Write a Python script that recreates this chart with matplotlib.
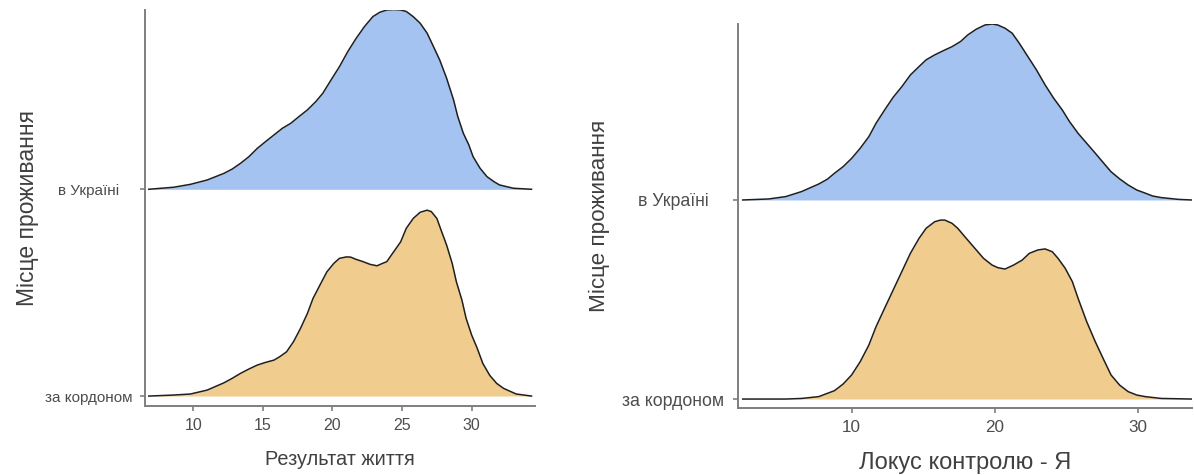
import matplotlib
matplotlib.use("Agg")
import matplotlib.pyplot as plt

plt.rcParams['font.family'] = ['Liberation Sans', 'DejaVu Sans']

categories = ["за кордоном", "в Україні"]
ylabel = "Місце проживання"
xlabel_left = "Результат життя"
xlabel_right = "Локус контролю - Я"
xticks_left = [10, 15, 20, 25, 30]
xticks_right = [10, 20, 30]

# ridge heights (in units of row spacing)
left_ua_x = [6.8, 8.6, 9.8, 11.0, 12.2, 12.8, 13.4, 14.0, 14.6, 15.2, 15.8, 16.4, 17.0, 17.6,
             18.2, 18.8, 19.3, 19.9, 20.5, 21.1, 21.7, 22.3, 22.9, 23.4, 23.9, 24.4, 24.9, 25.3,
             25.8, 26.3, 26.8, 27.2, 27.7, 28.2, 28.7, 29.0, 29.4, 29.8, 30.1, 30.6, 31.1, 31.6,
             32.0, 33.0, 34.3]
left_ua_h = [0.0, 0.01, 0.024, 0.045, 0.077, 0.098, 0.126, 0.158, 0.198, 0.231, 0.263, 0.295, 0.319, 0.352,
             0.384, 0.424, 0.464, 0.529, 0.593, 0.666, 0.730, 0.787, 0.835, 0.856, 0.867, 0.869, 0.867, 0.860,
             0.835, 0.803, 0.755, 0.698, 0.626, 0.537, 0.432, 0.352, 0.271, 0.214, 0.158, 0.102, 0.061, 0.037,
             0.021, 0.005, 0.0]

left_abroad_x = [6.8, 8.6, 9.8, 11.0, 12.2, 12.8, 13.4, 14.0, 14.6, 15.2, 15.8, 16.2, 16.7, 17.2,
                 17.7, 18.2, 18.6, 19.1, 19.6, 20.1, 20.5, 21.0, 21.3, 21.7, 22.2, 22.7, 23.2, 23.5,
                 23.9, 24.4, 24.9, 25.3, 25.8, 26.3, 26.8, 27.1, 27.5, 27.8, 28.2, 28.6, 28.9, 29.3,
                 29.6, 30.0, 30.4, 30.8, 31.3, 31.8, 32.3, 33.2, 34.3]
left_abroad_h = [0.0, 0.005, 0.01, 0.029, 0.064, 0.086, 0.11, 0.131, 0.15, 0.163, 0.174, 0.190, 0.214, 0.263,
                 0.327, 0.40, 0.472, 0.537, 0.601, 0.642, 0.666, 0.673, 0.672, 0.661, 0.650, 0.637, 0.630, 0.639,
                 0.650, 0.698, 0.746, 0.811, 0.859, 0.889, 0.899, 0.892, 0.859, 0.803, 0.730, 0.642, 0.553, 0.464,
                 0.376, 0.295, 0.231, 0.158, 0.10, 0.061, 0.037, 0.01, 0.0]

right_ua_x = [2.4, 4.2, 5.4, 6.5, 7.7, 8.3, 8.8, 9.4, 10.0, 10.6, 11.2, 11.7, 12.3, 12.9, 13.5,
              14.1, 14.7, 15.2, 15.8, 16.4, 17.0, 17.6, 18.1, 18.7, 19.3, 19.8, 20.2, 20.7, 21.2,
              21.7, 22.3, 22.9, 23.5, 24.1, 24.7, 25.2, 25.8, 26.4, 27.0, 27.6, 28.1, 28.7, 29.3,
              29.9, 30.5, 31.0, 31.6, 32.8, 33.7]
right_ua_h = [0.0, 0.005, 0.017, 0.042, 0.080, 0.104, 0.134, 0.167, 0.209, 0.260, 0.318, 0.385, 0.452, 0.516, 0.569,
              0.628, 0.670, 0.704, 0.729, 0.750, 0.770, 0.796, 0.829, 0.858, 0.879, 0.884, 0.879, 0.863, 0.838,
              0.787, 0.720, 0.653, 0.578, 0.511, 0.452, 0.394, 0.335, 0.285, 0.235, 0.184, 0.142, 0.106, 0.075,
              0.05, 0.034, 0.02, 0.012, 0.003, 0.0]

right_abroad_x = [2.4, 5.4, 6.5, 7.7, 8.8, 9.4, 10.0, 10.6, 11.2, 11.7, 12.3, 12.9, 13.5, 14.1, 14.7,
                  15.2, 15.8, 16.2, 16.5, 17.0, 17.4, 18.0, 18.6, 19.2, 19.8, 20.2, 20.7, 21.3, 21.9,
                  22.4, 23.0, 23.5, 24.0, 24.4, 24.9, 25.4, 25.8, 26.4, 27.0, 27.6, 28.1, 28.7, 29.3,
                  29.9, 30.5, 31.6, 33.7]
right_abroad_h = [0.0, 0.0, 0.003, 0.012, 0.042, 0.075, 0.121, 0.188, 0.271, 0.363, 0.456, 0.548, 0.640, 0.732, 0.807,
                  0.858, 0.891, 0.899, 0.899, 0.883, 0.858, 0.807, 0.757, 0.707, 0.673, 0.660, 0.653, 0.673, 0.698,
                  0.732, 0.749, 0.754, 0.740, 0.707, 0.657, 0.590, 0.506, 0.389, 0.288, 0.196, 0.121, 0.070, 0.037,
                  0.02, 0.012, 0.003, 0.0]

blue = "#A4C3F0"
orange = "#F0CD8E"
axis_grey = "#7F7F7F"
text_grey = "#4D4D4D"
title_grey = "#404040"

fig = plt.figure(figsize=(11.94, 4.75), dpi=100)
ax1 = fig.add_axes([145/1194, 1-406/475, 390/1194, 396/475])
ax2 = fig.add_axes([738/1194, 1-408/475, 454/1194, 384/475])


def ridges(ax, xs_list, hs_list, colors):
    for i, (xs, hs, c) in enumerate(zip(xs_list, hs_list, colors)):
        base = i + 1
        ys = [base + h for h in hs]
        ax.fill_between(xs, base, ys, color=c, lw=0, zorder=2 + (2 - i))
        ax.plot(xs, ys, color="#1f1f1f", lw=1.1, zorder=3 + (2 - i))


ridges(ax1, [left_abroad_x, left_ua_x], [left_abroad_h, left_ua_h], [orange, blue])
ridges(ax2, [right_abroad_x, right_ua_x], [right_abroad_h, right_ua_h], [orange, blue])

panels = [
    # ax, xlabel, xticks, xlim, ylim, ytick size, xtick size, ytick pad, xlabel size, ylabel size, xlabelpad, ylab x
    (ax1, xlabel_left, xticks_left, (6.53, 34.55), (0.952, 2.867), 11.0, 11.5, 37.0, 14.3, 16.5, 12.5, -0.271),
    (ax2, xlabel_right, xticks_right, (2.07, 33.75), (0.955, 2.884), 12.8, 12.3, 43.0, 17.0, 16.2, 12.0, -0.281),
]
for ax, xl, xt, lim, ylim, ysz, xsz, ypad, xlsz, ylsz, xlpad, ylx in panels:
    ax.set_xlim(*lim)
    ax.set_ylim(*ylim)
    ax.set_xticks(xt)
    ax.set_yticks([1, 2])
    ax.set_yticklabels(categories, ha="center")
    for s in ["top", "right"]:
        ax.spines[s].set_visible(False)
    for s in ["left", "bottom"]:
        ax.spines[s].set_color(axis_grey)
        ax.spines[s].set_linewidth(1.4)
    ax.tick_params(axis="both", colors=axis_grey, length=3.6, width=1.2, labelcolor=text_grey)
    ax.tick_params(axis="y", labelsize=ysz, pad=ypad)
    ax.tick_params(axis="x", labelsize=xsz, pad=5)
    ax.set_xlabel(xl, fontsize=xlsz, color=title_grey, labelpad=xlpad)
    ax.set_ylabel(ylabel, fontsize=ylsz, color=title_grey)
    ax.yaxis.set_label_coords(ylx, 0.5, transform=ax.transAxes)

fig.savefig("out.png", dpi=100)
